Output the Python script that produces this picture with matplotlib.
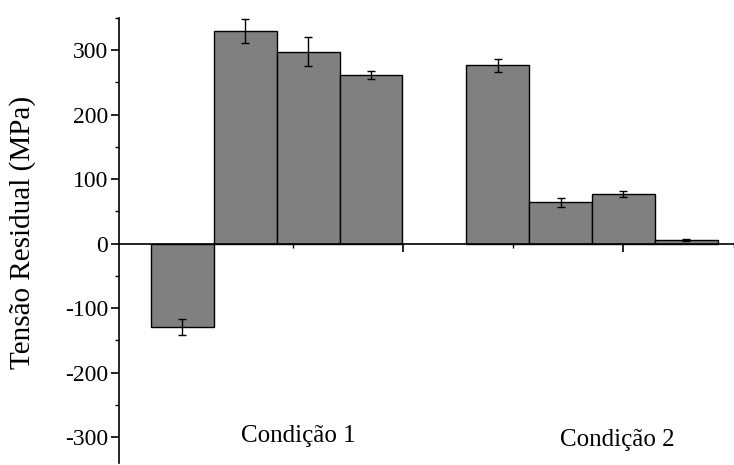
import numpy as np
import matplotlib as mpl
mpl.use("Agg")
import matplotlib.pyplot as plt
from matplotlib.ticker import MultipleLocator

mpl.rcParams.update({
    "font.family": ["Liberation Serif", "DejaVu Serif"],
    "font.size": 17,
    "axes.unicode_minus": False,
})

# data
cond1_x = [1.0, 1.57, 2.14, 2.71]
cond1_val = [-129, 330, 298, 262]
cond1_err = [13, 18, 22, 6]
cond2_x = [3.86, 4.43, 5.0, 5.57]
cond2_val = [277, 64, 77, 6]
cond2_err = [10, 7, 5, 2]
group_labels = ["Condição 1", "Condição 2"]
label_pos = [(2.05, -298), (4.94, -305)]

fig = plt.figure(figsize=(7.34, 4.65), dpi=100)
ax = fig.add_axes([119 / 734, 2 / 465, 618 / 734, 445 / 465])

bar_w = 0.57
for xs, vals, errs in [(cond1_x, cond1_val, cond1_err),
                       (cond2_x, cond2_val, cond2_err)]:
    ax.bar(xs, vals, width=bar_w, color="#808080", edgecolor="black",
           linewidth=1.0, zorder=2)
    ax.errorbar(xs, vals, yerr=errs, fmt="none", ecolor="black",
                elinewidth=1.0, capsize=3, capthick=1.0, zorder=3)

for lab, (x, y) in zip(group_labels, label_pos):
    ax.text(x, y, lab, ha="center", va="center", fontsize=18)

ax.set_xlim(0.425, 6.03)
ax.set_ylim(-340, 350)
ax.spines["top"].set_visible(False)
ax.spines["right"].set_visible(False)
ax.spines["bottom"].set_position(("data", 0))
ax.spines["left"].set_linewidth(1.2)
ax.spines["bottom"].set_linewidth(1.2)
ax.spines["bottom"].set_zorder(4)

ax.yaxis.set_minor_locator(MultipleLocator(50))
ax.set_yticks([-300, -200, -100, 0, 100, 200, 300])
ax.tick_params(axis="y", which="major", direction="out", length=6, width=1.2,
               labelsize=17, pad=2)
ax.tick_params(axis="y", which="minor", direction="out", length=3, width=1.0)

ax.set_xticks([1, 3, 5])
ax.set_xticks([2, 4, 6], minor=True)
ax.tick_params(axis="x", which="major", direction="out", length=6, width=1.2,
               labelbottom=False)
ax.tick_params(axis="x", which="minor", direction="out", length=3, width=1.0)
for t in ax.xaxis.get_major_ticks() + ax.xaxis.get_minor_ticks():
    t.tick1line.set_zorder(5)

ax.set_ylabel("Tensão Residual (MPa)", fontsize=21)
ax.yaxis.set_label_coords(-0.135, 0.517)

fig.savefig("out.png", dpi=100)
